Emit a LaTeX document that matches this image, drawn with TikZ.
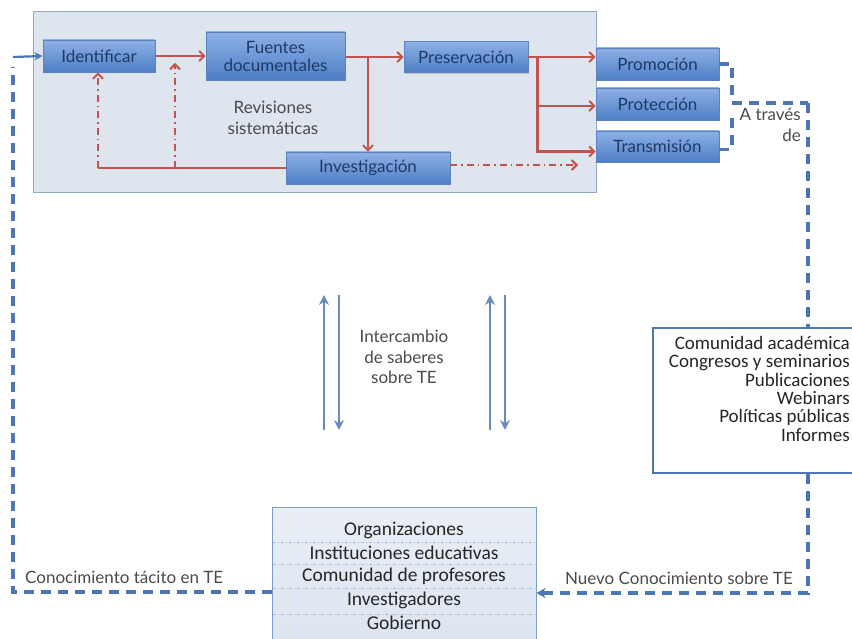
\documentclass[tikz,border=0pt]{standalone}
\usepackage{fontspec}
\setmainfont{Lato}
\newfontfamily\calib{Carlito}
\usetikzlibrary{arrows.meta,calc,shadows}

\definecolor{boxtop}{HTML}{8EB1E6}
\definecolor{boxbot}{HTML}{4E7EC5}
\definecolor{boxedge}{HTML}{5A82BE}
\definecolor{navy}{HTML}{1E3A68}
\definecolor{flowred}{HTML}{C25450}
\definecolor{linkblue}{HTML}{4C76B4}
\definecolor{panel}{HTML}{DEE5EF}
\definecolor{paneledge}{HTML}{93A8C8}
\definecolor{greytext}{HTML}{4A4A4A}
\definecolor{actorfill}{HTML}{DCE4F0}

\tikzset{
  stage/.style={draw=boxedge, line width=0.8pt, top color=boxtop, bottom color=boxbot,
    text=navy, font=\fontsize{17}{18}\selectfont, align=center, inner sep=0pt,
    drop shadow={shadow xshift=1pt, shadow yshift=-1.5pt, opacity=0.35}},
  redflow/.style={draw=flowred, line width=2.3pt, -{Straight Barb[length=5pt,width=10pt,line width=2pt]}},
  redline/.style={draw=flowred, line width=2.3pt},
  dashdot/.style={dash pattern=on 7pt off 4pt on 1.5pt off 4pt},
  dashlink/.style={draw=linkblue, line width=3.4pt, dash pattern=on 10pt off 7pt},
  bluearrow/.style={draw=linkblue!85, line width=2.2pt, -{Stealth[length=10pt,width=10pt]}},
  note/.style={text=greytext, font=\fontsize{17}{20.5}\selectfont, align=center, inner sep=0pt},
  actorrow/.style={font=\calib\fontsize{19.5}{20}\selectfont, text=black!85, inner sep=0pt},
}

\begin{document}
\begin{tikzpicture}[x=1pt, y=-1pt]
\useasboundingbox (0,0) rectangle (852,639);

% process panel
\fill[panel, draw=paneledge, line width=1pt] (33,12) rectangle (596,193);

% stage boxes
\node[stage, minimum width=112pt, minimum height=32pt] (ident) at (99,56) {Identificar};
\node[stage, minimum width=139pt, minimum height=48pt] (fuentes) at (275.5,56) {Fuentes\\documentales};
\node[stage, minimum width=124pt, minimum height=31pt] (pres) at (466,57) {Preservación};
\node[stage, minimum width=123pt, minimum height=32pt] (prom) at (657.5,64) {Promoción};
\node[stage, minimum width=123pt, minimum height=32pt] (prot) at (657.5,104) {Protección};
\node[stage, minimum width=123pt, minimum height=31pt] (trans) at (657.5,146.5) {Transmisión};
\node[stage, minimum width=164pt, minimum height=32pt] (invest) at (368,168) {Investigación};

\node[note] (revis) at (273,118) {Revisiones\\sistemáticas};

% red flow
\draw[redflow] (ident.east) -- (fuentes.west|-ident.east);
\draw[redflow] (fuentes.east|-pres.west) -- (pres.west);
\draw[redflow] (invest.north|-pres.west) -- (invest.north);
\draw[redflow] (pres.east) -- (prom.west|-pres.east);
\coordinate (br) at ($(pres.east)+(9,0)$);
\draw[redflow] (br) |- ($(trans.west)+(0,5)$);
\draw[redflow] ($(br|-prot.west)+(0,2)$) -- ($(prot.west)+(0,2)$);

% feedback from research
\coordinate (fbl) at (98,168);
\coordinate (fbm) at (175,168);
\draw[redline] (invest.west) -- (fbl);
\draw[redflow, dashdot] (fbl) -- (fbl|-ident.south);
\draw[redflow, dashdot] (fbm) -- (175,63);
\draw[redflow, dashdot] ($(invest.east)+(0,-3)$) -- (578,165);

% dissemination bracket
\coordinate (bk) at (732,103);
\coordinate (rv) at (808,103);
\draw[dashlink] (prom.east) -| (732,100);
\draw[dashlink] ($(trans.east)+(0,3)$) -| (732,112);
\draw[dashlink] (bk) -- (rv);
\node[note, anchor=north east, align=right] (via) at (801,108) {A través\\de};

% academic channels
\node[draw=linkblue, line width=1.5pt, fill=white, minimum width=207pt, minimum height=145pt,
      inner sep=0pt] (acad) at (756.5,400.5) {};
\node[anchor=north east, align=right, text=black!85, inner sep=0pt,
      font=\calib\fontsize{19}{18.4}\selectfont] (acadtxt) at (850,336)
  {Comunidad académica\\Congresos y seminarios\\Publicaciones\\Webinars\\Políticas públicas\\Informes};
\draw[dashlink] (rv) -- (acad.north-|rv);

% actors
\node[draw=boxedge!80, line width=1pt, top color=actorfill!60!white, bottom color=actorfill,
      minimum width=264pt, minimum height=138pt, inner sep=0pt] (actors) at (404,576) {};
\foreach \yy in {542,564,588,614}
  \draw[boxedge!55, line width=0.8pt, dash pattern=on 3pt off 2pt on 1pt off 2pt] (273,\yy) -- (535,\yy);
\foreach \txt/\yy in {Organizaciones/530, Instituciones educativas/553, Comunidad de profesores/576,
                      Investigadores/600, Gobierno/623}
  \node[actorrow] at (404,\yy) {\txt};

% knowledge loop
\draw[dashlink, -{Stealth[length=9pt,width=10pt]}] (acad.south-|rv) |- ($(actors.east)+(0,17)$);
\draw[dashlink] ($(actors.west)+(0,16)$) -| (13,67);
\draw[draw=linkblue, line width=2.2pt, -{Stealth[length=8pt,width=8pt]}] (13,57) -- (ident.west);
\node[note, anchor=west] (tacit) at (25,577) {Conocimiento tácito en TE};
\node[note, anchor=east] (nuevo) at (793,578) {Nuevo Conocimiento sobre TE};

% exchange arrows
\coordinate (a1) at (324,430); \coordinate (a2) at (339,295);
\coordinate (a3) at (490,430); \coordinate (a4) at (505,295);
\draw[bluearrow] (a1) -- (324,295);
\draw[bluearrow] (a2) -- (339,430);
\draw[bluearrow] (a3) -- (490,295);
\draw[bluearrow] (a4) -- (505,430);
\node[note] (swap) at (404,357) {Intercambio\\de saberes\\sobre TE};
\end{tikzpicture}
\end{document}
